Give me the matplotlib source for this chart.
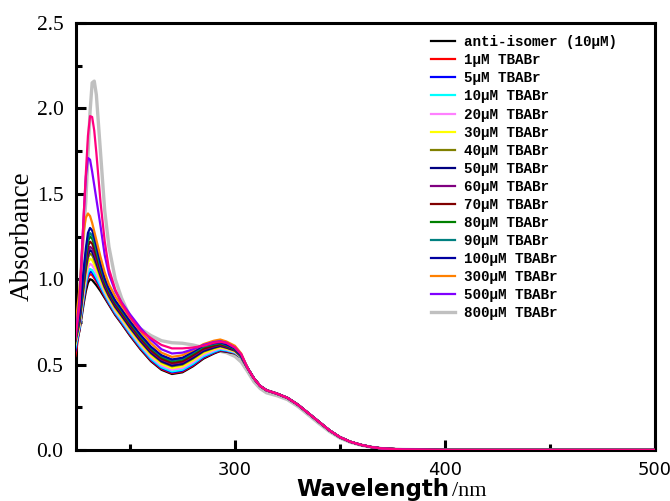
import matplotlib
matplotlib.use('Agg')
import matplotlib.pyplot as plt
from matplotlib.ticker import MultipleLocator

# Wavelengths (nm) for the peak region
WL_HEAD = [224, 226, 228, 229, 230, 231, 232, 233, 234, 236, 238, 240, 243,
           246, 250, 255, 260, 265, 270, 275, 280, 285, 290, 293, 296, 300,
           303]
# Wavelengths (nm) for the tail, where all spectra almost coincide
WL_TAIL = [306, 309, 312, 315, 320, 325, 330, 335, 340, 345, 350, 355, 360,
           365, 370, 380, 400, 450, 500]

TAIL = [0.48, 0.42, 0.375, 0.35, 0.33, 0.305, 0.265, 0.215, 0.165, 0.115,
        0.075, 0.048, 0.03, 0.017, 0.009, 0.003, 0.0, 0.0, 0.0]
TAIL_800 = [0.46, 0.40, 0.36, 0.335, 0.318, 0.295, 0.255, 0.205, 0.155,
            0.108, 0.07, 0.045, 0.028, 0.016, 0.008, 0.003, 0.0, 0.0, 0.0]

ANTI = [0.60, 0.70, 0.86, 0.93, 0.98, 1.00, 0.995, 0.98, 0.965, 0.93, 0.89,
        0.85, 0.79, 0.74, 0.67, 0.59, 0.52, 0.47, 0.445, 0.455, 0.49, 0.535,
        0.565, 0.58, 0.575, 0.565, 0.54]
C1 = [0.55, 0.71, 0.88, 0.955, 1.01, 1.03, 1.024, 1.006, 0.987, 0.944, 0.898,
      0.856, 0.795, 0.745, 0.675, 0.595, 0.525, 0.475, 0.45, 0.46, 0.495,
      0.54, 0.569, 0.583, 0.578, 0.567, 0.541]
C5 = [0.58, 0.714, 0.89, 0.968, 1.024, 1.045, 1.039, 1.02, 0.999, 0.953,
      0.905, 0.861, 0.80, 0.75, 0.68, 0.60, 0.53, 0.48, 0.455, 0.465, 0.50,
      0.544, 0.572, 0.586, 0.58, 0.569, 0.542]
C10 = [0.60, 0.719, 0.90, 0.98, 1.038, 1.06, 1.053, 1.033, 1.011, 0.961,
       0.911, 0.867, 0.805, 0.755, 0.685, 0.605, 0.535, 0.485, 0.46, 0.47,
       0.505, 0.549, 0.576, 0.589, 0.583, 0.57, 0.542]
C20 = [0.62, 0.729, 0.92, 1.005, 1.067, 1.09, 1.082, 1.06, 1.035, 0.978,
       0.924, 0.878, 0.815, 0.765, 0.695, 0.615, 0.545, 0.495, 0.47, 0.48,
       0.515, 0.558, 0.583, 0.595, 0.588, 0.574, 0.544]
C30 = [0.62, 0.739, 0.94, 1.031, 1.097, 1.12, 1.112, 1.087, 1.059, 0.996,
       0.936, 0.888, 0.825, 0.775, 0.705, 0.625, 0.555, 0.505, 0.48, 0.49,
       0.525, 0.567, 0.59, 0.601, 0.593, 0.577, 0.545]
C40 = [0.63, 0.749, 0.96, 1.055, 1.126, 1.15, 1.141, 1.114, 1.082, 1.013,
       0.949, 0.899, 0.835, 0.785, 0.715, 0.635, 0.565, 0.515, 0.49, 0.50,
       0.535, 0.576, 0.597, 0.607, 0.598, 0.581, 0.547]
C50 = [0.64, 0.755, 0.973, 1.072, 1.145, 1.17, 1.16, 1.132, 1.098, 1.023,
       0.956, 0.905, 0.84, 0.79, 0.72, 0.64, 0.57, 0.52, 0.495, 0.505, 0.54,
       0.58, 0.60, 0.61, 0.60, 0.583, 0.548]
C60 = [0.64, 0.763, 0.987, 1.089, 1.165, 1.19, 1.18, 1.15, 1.115, 1.037,
       0.968, 0.915, 0.85, 0.80, 0.73, 0.65, 0.58, 0.53, 0.505, 0.515, 0.55,
       0.589, 0.607, 0.616, 0.605, 0.586, 0.549]
C70 = [0.65, 0.772, 1.007, 1.114, 1.194, 1.22, 1.209, 1.177, 1.137, 1.051,
       0.976, 0.921, 0.855, 0.805, 0.735, 0.655, 0.585, 0.535, 0.51, 0.52,
       0.555, 0.594, 0.611, 0.619, 0.608, 0.588, 0.55]
C80 = [0.66, 0.782, 1.027, 1.139, 1.223, 1.25, 1.238, 1.204, 1.161, 1.068,
       0.989, 0.932, 0.865, 0.815, 0.745, 0.665, 0.595, 0.545, 0.52, 0.53,
       0.565, 0.603, 0.618, 0.625, 0.613, 0.591, 0.551]
C90 = [0.66, 0.788, 1.04, 1.156, 1.242, 1.27, 1.257, 1.222, 1.176, 1.078,
       0.996, 0.938, 0.87, 0.82, 0.75, 0.67, 0.60, 0.55, 0.525, 0.535, 0.57,
       0.607, 0.621, 0.628, 0.615, 0.593, 0.552]
C100 = [0.67, 0.797, 1.06, 1.18, 1.271, 1.30, 1.286, 1.248, 1.198, 1.092,
        1.004, 0.944, 0.875, 0.825, 0.755, 0.675, 0.605, 0.555, 0.53, 0.54,
        0.575, 0.612, 0.625, 0.631, 0.618, 0.595, 0.553]
C300 = [0.72, 0.95, 1.28, 1.36, 1.385, 1.37, 1.33, 1.28, 1.23, 1.13, 1.04,
        0.97, 0.90, 0.845, 0.775, 0.695, 0.625, 0.57, 0.545, 0.555, 0.585,
        0.62, 0.64, 0.647, 0.635, 0.61, 0.565]
C500 = [0.66, 0.88, 1.38, 1.60, 1.71, 1.70, 1.63, 1.55, 1.47, 1.31, 1.14,
        1.03, 0.93, 0.865, 0.795, 0.715, 0.645, 0.59, 0.565, 0.57, 0.59,
        0.615, 0.632, 0.637, 0.628, 0.60, 0.56]
C800 = [0.70, 0.92, 1.28, 1.46, 1.72, 1.98, 2.15, 2.16, 2.08, 1.74, 1.40,
        1.19, 1.00, 0.89, 0.78, 0.71, 0.67, 0.64, 0.628, 0.625, 0.615, 0.60,
        0.585, 0.578, 0.57, 0.548, 0.515]
# pink curve that has no legend entry
C_EXTRA = [0.65, 0.85, 1.38, 1.62, 1.84, 1.955, 1.95, 1.87, 1.74, 1.45, 1.22,
           1.06, 0.94, 0.86, 0.78, 0.70, 0.655, 0.615, 0.595, 0.595, 0.60,
           0.61, 0.628, 0.634, 0.627, 0.60, 0.56]

LABELS = ['anti-isomer (10μM)', '1μM TBABr', '5μM TBABr', '10μM TBABr',
          '20μM TBABr', '30μM TBABr', '40μM TBABr', '50μM TBABr',
          '60μM TBABr', '70μM TBABr', '80μM TBABr', '90μM TBABr',
          '100μM TBABr', '300μM TBABr', '500μM TBABr', '800μM TBABr']
SERIES = [ANTI, C1, C5, C10, C20, C30, C40, C50, C60, C70, C80, C90, C100,
          C300, C500, C800]
COLORS = ['#000000', '#ff0000', '#0000ff', '#00ffff', '#ff80ff', '#ffff00',
          '#808000', '#000080', '#800080', '#800000', '#008000', '#008080',
          '#0000a0', '#ff8000', '#8000ff', '#c0c0c0']

LINE_WIDTH = 1.6


def plot_spectra(ax):
    """Draws every titration spectrum on ax."""
    wl = WL_HEAD + WL_TAIL
    for i, (vals, lab, col) in enumerate(zip(SERIES, LABELS, COLORS)):
        tail = TAIL_800 if vals is C800 else TAIL
        lw = LINE_WIDTH
        z = 3 + i
        if vals is C800:
            lw = 2.4
            z = 2
        ax.plot(wl, vals + tail, color=col, linewidth=lw, label=lab,
                zorder=z)
    ax.plot(wl, C_EXTRA + TAIL, color='#ff0080', linewidth=LINE_WIDTH,
            zorder=30)


def configure_plot(fig, ax):
    """Axis limits, ticks, labels and legend."""
    ax.set_xlim(224.3, 500)
    ax.set_ylim(0, 2.5)
    ax.xaxis.set_major_locator(MultipleLocator(100))
    ax.xaxis.set_minor_locator(MultipleLocator(50))
    ax.yaxis.set_major_locator(MultipleLocator(0.5))
    ax.yaxis.set_minor_locator(MultipleLocator(0.25))
    ax.yaxis.set_major_formatter(lambda v, p: f'{v:.1f}')
    ax.tick_params(which='both', direction='in', width=2.2)
    ax.tick_params(which='major', length=7)
    ax.tick_params(which='minor', length=4)
    ax.tick_params(axis='x', pad=8)
    ax.tick_params(axis='y', pad=9)
    for lab in ax.get_xticklabels():
        lab.set_fontfamily('DejaVu Sans')
        lab.set_fontsize(13)
    for lab in ax.get_yticklabels():
        lab.set_fontfamily('Liberation Serif')
        lab.set_fontsize(15.5)
    for sp in ax.spines.values():
        sp.set_linewidth(2.2)

    ax.set_ylabel('Absorbance', fontfamily='Liberation Serif', fontsize=19.5,
                  labelpad=1)
    # x label: bold sans word, serif unit
    fig.text(449 / 670, 5 / 501, 'Wavelength', ha='right', va='baseline',
             fontfamily='DejaVu Sans', fontweight='bold', fontsize=16.5)
    fig.text(452 / 670, 5 / 501, '/nm', ha='left', va='baseline',
             fontfamily='Liberation Serif', fontsize=16)

    ax.legend(loc='upper left', bbox_to_anchor=(0.592, 1.0), frameon=False,
              prop={'family': 'Liberation Mono', 'weight': 'bold',
                    'size': 10.3},
              handlelength=1.7, handletextpad=0.6, labelspacing=0.285,
              borderaxespad=0.45)


def start():
    fig = plt.figure(figsize=(6.7, 5.01), dpi=100)
    ax = fig.add_axes([0.1134, 0.1018, 0.8642, 0.8522])
    plot_spectra(ax)
    configure_plot(fig, ax)
    fig.savefig('out.png', dpi=100)


if __name__ == '__main__':
    start()
